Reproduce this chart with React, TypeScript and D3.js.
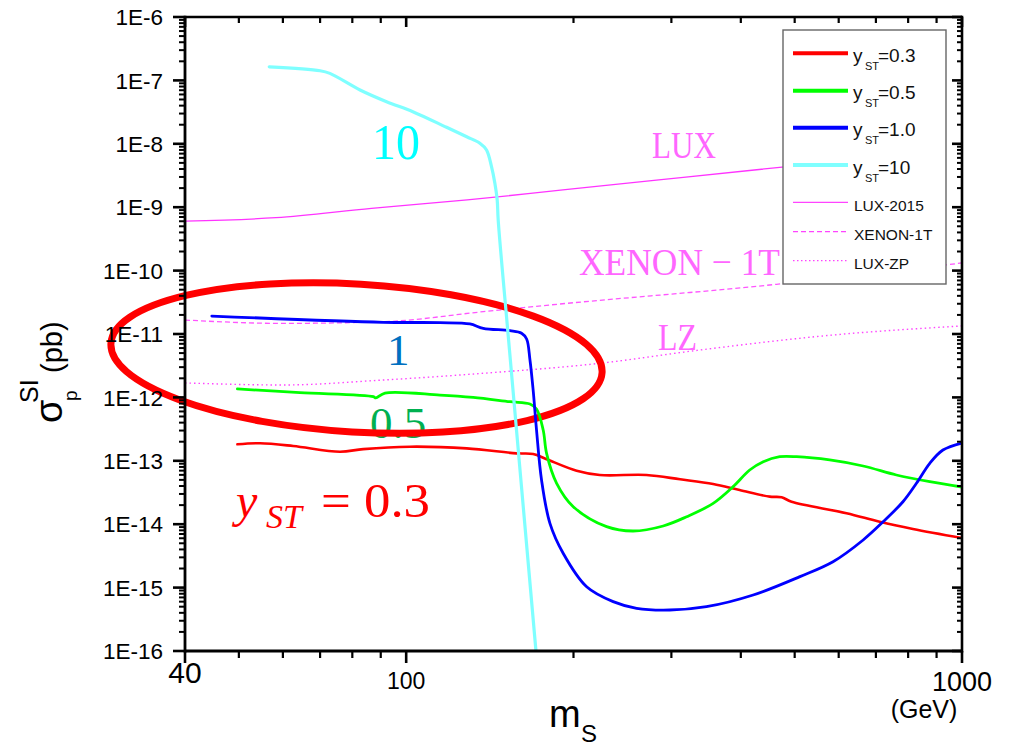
import React from "react";
import * as d3 from "d3";

// ---------- data (m_S in GeV, sigma in pb) ----------
const y03Mass = [49.7, 54.6, 62.6, 76.0, 83.7, 101.6, 128.5, 158, 169.2, 178.9, 202.6, 223, 270.7, 311, 356.7, 398, 451, 473.6, 493.6, 619.7, 711, 816, 1000];
const y03Sigma = [1.82e-13, 1.89e-13, 1.71e-13, 1.39e-13, 1.53e-13, 1.67e-13, 1.57e-13, 1.31e-13, 1.28e-13, 1.06e-13, 6.98e-14, 5.97e-14, 5.97e-14, 5.11e-14, 4.31e-14, 3.46e-14, 2.72e-14, 2.66e-14, 2.26e-14, 1.49e-14, 1.09e-14, 8.4e-15, 6.06e-15];

const y05Mass = [49.7, 64.4, 87.3, 88.2, 91.6, 115, 132, 153.7, 167, 171.6, 176.4, 178.9, 186.5, 199.8, 229.4, 256, 290, 319.5, 356.7, 387.5, 415, 439, 470, 504, 578, 664, 762, 875, 1000];
const y05Sigma = [1.36e-12, 1.19e-12, 1.03e-12, 0.98e-12, 1.17e-12, 1.09e-12, 1.0e-12, 8.55e-13, 7.87e-13, 6.56e-13, 3.06e-13, 1.31e-13, 4.42e-14, 1.89e-14, 9.14e-15, 7.81e-15, 9.37e-15, 1.31e-14, 2.13e-14, 3.91e-14, 7.16e-14, 9.68e-14, 1.16e-13, 1.16e-13, 1.03e-13, 8.28e-14, 5.97e-14, 4.68e-14, 3.86e-14];

const y10Mass = [44.7, 90.9, 115, 130.2, 137.6, 153.7, 161.3, 164.7, 167.0, 169.2, 171.6, 175.2, 181.4, 191.6, 211.2, 235.7, 259.8, 298, 347, 421, 511, 586, 664, 721, 783, 828, 875, 924, 1000];
const y10Sigma = [1.92e-11, 1.53e-11, 1.51e-11, 1.44e-11, 1.23e-11, 1.13e-11, 1.03e-11, 8.34e-12, 3.89e-12, 1.31e-12, 3.06e-13, 4.98e-14, 1.03e-14, 3.48e-15, 1.03e-15, 6.0e-16, 4.71e-16, 4.43e-16, 5.0e-16, 7.64e-16, 1.49e-15, 2.56e-15, 5.64e-15, 1.09e-14, 2.26e-14, 4.42e-14, 9.14e-14, 1.48e-13, 1.91e-13];

const y100Mass = [56.7, 70.0, 72.9, 82.6, 92.2, 102.8, 118.2, 128.5, 135.7, 139.5, 142.4, 144.4, 145.8, 146.4, 153.4, 171.2];
const y100Sigma = [1.64e-7, 1.42e-7, 1.29e-7, 7.06e-8, 4.61e-8, 3.21e-8, 1.82e-8, 1.29e-8, 1.02e-8, 7.98e-9, 4.35e-9, 2.38e-9, 1.30e-9, 6.28e-10, 5.6e-12, 1e-16];

const luxMass = [40, 58.3, 86.6, 128.8, 191.4, 284.8, 423, 500];
const luxSigma = [6.05e-10, 6.83e-10, 9.61e-10, 1.30e-9, 1.87e-9, 2.69e-9, 3.86e-9, 4.5e-9];

const xenonMass = [40, 60.1, 90.8, 137.6, 181.4, 463.7, 1000];
const xenonSigma = [1.66e-11, 1.47e-11, 1.56e-11, 2.25e-11, 2.87e-11, 6.08e-11, 1.32e-10];

const lzMass = [40, 60.1, 90.9, 137.6, 223, 338, 586, 1000];
const lzSigma = [1.69e-12, 1.57e-12, 1.88e-12, 2.40e-12, 3.45e-12, 5.6e-12, 9.64e-12, 1.34e-11];

const yTickValues = [1e-6, 1e-7, 1e-8, 1e-9, 1e-10, 1e-11, 1e-12, 1e-13, 1e-14, 1e-15, 1e-16];
const yTickLabels = ["1E-6", "1E-7", "1E-8", "1E-9", "1E-10", "1E-11", "1E-12", "1E-13", "1E-14", "1E-15", "1E-16"];
const xMajorValues = [40, 100, 1000];
const xMajorLabels = ["40", "100", "1000"];
const xMinorValues = [50, 60, 70, 80, 90, 200, 300, 400, 500, 600, 700, 800, 900];

const legendLabels = ["0.3", "0.5", "1.0", "10"];
const expLabels = ["LUX-2015", "XENON-1T", "LUX-ZP"];

const SANS = "'Liberation Sans', Arial, sans-serif";
const SERIF = "'Liberation Serif', 'DejaVu Serif', serif";

export default function App() {
  const L = 185, R = 962, T = 17, B = 651;
  const x = d3.scaleLog().domain([40, 1000]).range([L, R]);
  const y = d3.scaleLog().domain([1e-16, 1e-6]).range([B, T]);

  const mk = (ms: number[], ss: number[]) => ms.map((m, i) => [m, ss[i]] as [number, number]);
  const smooth = d3.line<[number, number]>().x(d => x(d[0])).y(d => y(d[1])).curve(d3.curveCatmullRom.alpha(0.5));
  const straight = d3.line<[number, number]>().x(d => x(d[0])).y(d => y(d[1])).curve(d3.curveMonotoneX);

  const yMinor: number[] = [];
  for (let k = -16; k < -6; k++) for (let j = 2; j <= 9; j++) yMinor.push(j * Math.pow(10, k));

  const curves = [
    { d: mk(y03Mass, y03Sigma), c: "#ff0000", w: 2.6 },
    { d: mk(y05Mass, y05Sigma), c: "#00ff00", w: 2.8 },
    { d: mk(y10Mass, y10Sigma), c: "#0000ff", w: 2.8 },
    { d: mk(y100Mass, y100Sigma), c: "#7fffff", w: 3.2 },
  ];
  const legColors = ["#ff0000", "#00ff00", "#0000ff", "#7fffff"];
  const legRows = [53.3, 90.7, 127.7, 165];
  const expRows = [202.3, 231.7, 260.7];
  const expDash = [null, "5,3", "1.5,2.5"];

  // ellipse annotation centre, in data units
  const ellCx = x(81.4), ellCy = y(4.18e-12);

  return (
    <svg width={1011} height={746} style={{ position: "absolute", left: 0, top: 0, background: "#fff" }}>
      <defs>
        <clipPath id="plot"><rect x={L} y={T} width={R - L} height={B - T} /></clipPath>
      </defs>
      <rect x={0} y={0} width={1011} height={746} fill="#fff" />

      {/* experimental limits */}
      <g clipPath="url(#plot)" fill="none">
        <path d={straight(mk(luxMass, luxSigma)) || ""} stroke="#ff33ff" strokeWidth={1.3} />
        <path d={straight(mk(xenonMass, xenonSigma)) || ""} stroke="#ff55ff" strokeWidth={1.3} strokeDasharray="5,3" />
        <path d={straight(mk(lzMass, lzSigma)) || ""} stroke="#ff44ff" strokeWidth={1.4} strokeDasharray="1.5,3" />
      </g>

      {/* text annotations */}
      <text x={372} y={159} fontFamily={SERIF} fontSize={50} fill="#00ffff" textLength={48} lengthAdjust="spacingAndGlyphs">10</text>
      <text x={652} y={158} fontFamily={SERIF} fontSize={38} fill="#ff66ff" textLength={64} lengthAdjust="spacingAndGlyphs">LUX</text>
      <text x={579} y={275} fontFamily={SERIF} fontSize={38} fill="#ff66ff" textLength={201} lengthAdjust="spacingAndGlyphs">XENON − 1T</text>
      <text x={658} y={350} fontFamily={SERIF} fontSize={38} fill="#ff66ff" textLength={39} lengthAdjust="spacingAndGlyphs">LZ</text>
      <text x={387} y={365} fontFamily={SERIF} fontSize={45} fill="#0070c0">1</text>
      <text x={370} y={438} fontFamily={SERIF} fontSize={45} fill="#00b050">0.5</text>
      <text x={236} y={517} fontFamily={SERIF} fontStyle="italic" fontSize={48} fill="#ff0000">y</text>
      <text x={266} y={528} fontFamily={SERIF} fontStyle="italic" fontSize={34} fill="#ff0000">ST</text>
      <text x={321} y={517} fontFamily={SERIF} fontSize={48} fill="#ff0000" textLength={109} lengthAdjust="spacingAndGlyphs">= 0.3</text>

      {/* red ellipse */}
      <ellipse cx={ellCx} cy={ellCy} rx={246} ry={74} fill="none" stroke="#ff0000" strokeWidth={7}
        transform={`rotate(3.4 ${ellCx} ${ellCy})`} />

      {/* model curves */}
      <g clipPath="url(#plot)" fill="none" strokeLinejoin="round" strokeLinecap="round">
        {curves.map((c, i) => (
          <path key={i} d={smooth(c.d) || ""} stroke={c.c} strokeWidth={c.w} />
        ))}
      </g>

      {/* axes frame */}
      <g stroke="#000" fill="none">
        <line x1={L} y1={T} x2={R} y2={T} strokeWidth={2.6} />
        <line x1={L} y1={B} x2={R} y2={B} strokeWidth={2.8} />
        <line x1={L} y1={T - 1.3} x2={L} y2={B + 1.4} strokeWidth={2.8} />
        <line x1={R} y1={T - 1.3} x2={R} y2={B + 1.4} strokeWidth={2.6} />
        {yTickValues.map((v, i) => (
          <g key={"ym" + i}>
            <line x1={L - 12} x2={L} y1={y(v)} y2={y(v)} strokeWidth={2.6} />
            <line x1={R - 10} x2={R} y1={y(v)} y2={y(v)} strokeWidth={2.6} />
          </g>
        ))}
        {yMinor.map((v, i) => (
          <g key={"yn" + i}>
            <line x1={L - 6} x2={L} y1={y(v)} y2={y(v)} strokeWidth={2} />
            <line x1={R - 5} x2={R} y1={y(v)} y2={y(v)} strokeWidth={2} />
          </g>
        ))}
        {xMajorValues.map((v, i) => (
          <g key={"xm" + i}>
            <line x1={x(v)} x2={x(v)} y1={B} y2={B + 12} strokeWidth={2.6} />
            <line x1={x(v)} x2={x(v)} y1={T} y2={T + 10} strokeWidth={2.6} />
          </g>
        ))}
        {xMinorValues.map((v, i) => (
          <g key={"xn" + i}>
            <line x1={x(v)} x2={x(v)} y1={B} y2={B + 7} strokeWidth={2.2} />
            <line x1={x(v)} x2={x(v)} y1={T} y2={T + 6} strokeWidth={2.2} />
          </g>
        ))}
      </g>

      {/* tick labels */}
      <g fontFamily={SANS} fill="#000">
        {yTickValues.map((v, i) => (
          <text key={i} x={163} y={y(v)} dy="0.36em" textAnchor="end" fontSize={22.5}>{yTickLabels[i]}</text>
        ))}
        <text x={x(xMajorValues[0])} y={683} textAnchor="middle" fontSize={30}>{xMajorLabels[0]}</text>
        <text x={x(xMajorValues[1])} y={689} textAnchor="middle" fontSize={23}>{xMajorLabels[1]}</text>
        <text x={x(xMajorValues[2])} y={691} textAnchor="middle" fontSize={27}>{xMajorLabels[2]}</text>
        <text x={924} y={718} textAnchor="middle" fontSize={25}>(GeV)</text>
        <text x={549} y={727} fontSize={38}>m</text>
        <text x={581} y={742} fontSize={24}>S</text>
        <g transform="translate(62,423) rotate(-90)">
          <text x={0} y={0} fontSize={38}>σ</text>
          <text x={22} y={15} fontSize={19}>p</text>
          <text x={20} y={-24} fontSize={25}>SI</text>
          <text x={50} y={0} fontSize={29}>(pb)</text>
        </g>
      </g>

      {/* legend */}
      <g>
        <rect x={783} y={30} width={163} height={254} fill="#fff" stroke="#666" strokeWidth={1.4} />
        {legendLabels.map((lab, i) => (
          <g key={"l" + i}>
            <line x1={793} x2={848} y1={legRows[i]} y2={legRows[i]} stroke={legColors[i]} strokeWidth={4} />
            <text x={853} y={legRows[i] + 8.5} fontFamily={SANS} fontSize={19} fill="#111">y</text>
            <text x={865} y={legRows[i] + 16.5} fontFamily={SANS} fontSize={11} fill="#111">ST</text>
            <text x={878} y={legRows[i] + 8.5} fontFamily={SANS} fontSize={19} fill="#111">={lab}</text>
          </g>
        ))}
        {expLabels.map((lab, i) => (
          <g key={"e" + i}>
            <line x1={793} x2={848} y1={expRows[i]} y2={expRows[i]} stroke="#ff44ff" strokeWidth={1.3}
              strokeDasharray={expDash[i] || undefined} />
            <text x={854} y={expRows[i] + 8.5} fontFamily={SANS} fontSize={15.5} fill="#111">{lab}</text>
          </g>
        ))}
      </g>
    </svg>
  );
}
